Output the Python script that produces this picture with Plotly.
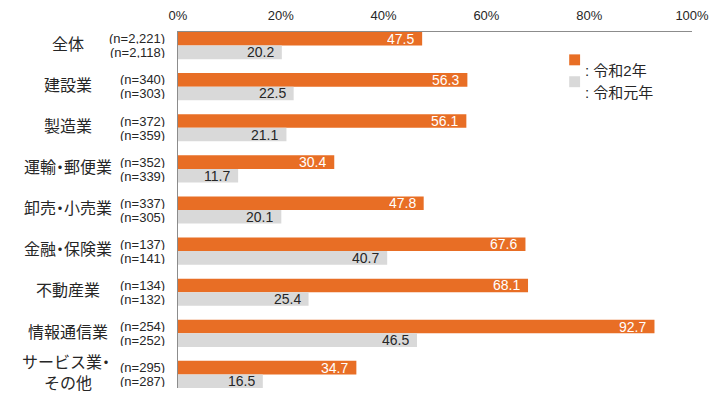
import plotly.graph_objects as go

categories = ["全体", "建設業", "製造業", "運輸・郵便業", "卸売・小売業",
              "金融・保険業", "不動産業", "情報通信業", "サービス業・<br>その他"]
n_r2 = ["(n=2,221)", "(n=340)", "(n=372)", "(n=352)", "(n=337)",
        "(n=137)", "(n=134)", "(n=254)", "(n=295)"]
n_r1 = ["(n=2,118)", "(n=303)", "(n=359)", "(n=339)", "(n=305)",
        "(n=141)", "(n=132)", "(n=252)", "(n=287)"]
vals_r2 = [47.5, 56.3, 56.1, 30.4, 47.8, 67.6, 68.1, 92.7, 34.7]
vals_r1 = [20.2, 22.5, 21.1, 11.7, 20.1, 40.7, 25.4, 46.5, 16.5]
series_names = ["令和2年", "令和元年"]
x_ticks = [0, 20, 40, 60, 80, 100]

ORANGE = "#E86E25"
GRAY = "#D9D9D9"
TXT = "#262626"
FONT = "Arial, 'Liberation Sans', 'Noto Sans CJK JP', sans-serif"

W, H = 717, 396
L, R, T, B = 178, 20, 30, 8
PW, PH = W - L - R, H - T - B

def px_x(px):
    return (px - L) / PW

def px_y(py):
    return 1 - (py - T) / PH

def tight_dot(s):
    # the reference uses a narrow middle dot; tighten spacing around it
    out = []
    chars = list(s)
    for j, ch in enumerate(chars):
        nxt = chars[j + 1] if j + 1 < len(chars) else ""
        if nxt == "・" or (ch == "・" and nxt not in ("", "<")):
            out.append(f'<span style="letter-spacing:-4px">{ch}</span>')
        else:
            out.append(ch)
    return "".join(out)

ys = list(range(len(categories)))
OFF = 0.165

fig = go.Figure()
fig.add_trace(go.Bar(y=ys, x=vals_r2, orientation="h", name=series_names[0],
                     marker=dict(color=ORANGE, line=dict(width=0)), showlegend=False))
fig.add_trace(go.Bar(y=ys, x=vals_r1, orientation="h", name=series_names[1],
                     marker=dict(color=GRAY, line=dict(width=0)), showlegend=False))

ann = []
for i, cat in enumerate(categories):
    # value labels
    ann.append(dict(x=vals_r2[i], y=i - OFF, xref="x", yref="y", text=f"{vals_r2[i]:.1f}",
                    showarrow=False, xanchor="right", xshift=-6, height=14,
                    font=dict(family=FONT, size=14, color="white")))
    ann.append(dict(x=vals_r1[i], y=i + OFF, xref="x", yref="y", text=f"{vals_r1[i]:.1f}",
                    showarrow=False, xanchor="right", xshift=-6, height=14,
                    font=dict(family=FONT, size=14, color=TXT)))
    # n labels
    ann.append(dict(x=px_x(167), y=i - OFF, xref="paper", yref="y", text=n_r2[i],
                    showarrow=False, xanchor="right", height=12, yshift=0.5,
                    font=dict(family=FONT, size=13, color=TXT)))
    ann.append(dict(x=px_x(167), y=i + OFF, xref="paper", yref="y", text=n_r1[i],
                    showarrow=False, xanchor="right", height=12,
                    font=dict(family=FONT, size=13, color=TXT)))
    # category names
    ann.append(dict(x=px_x(67), y=i - 0.03, xref="paper", yref="y", text=tight_dot(cat),
                    showarrow=False, xanchor="center",
                    font=dict(family=FONT, size=16, color=TXT)))

# legend (drawn manually)
shapes = []
for k, (col, py) in enumerate([(ORANGE, 58), (GRAY, 80)]):
    shapes.append(dict(type="rect", xref="paper", yref="paper",
                       x0=px_x(573), x1=px_x(584), y0=px_y(py - 5.5), y1=px_y(py + 5.5),
                       fillcolor=col, line=dict(width=0)))
    ann.append(dict(x=px_x(587), y=px_y(py), xref="paper", yref="paper",
                    text=": " + series_names[k], showarrow=False, xanchor="left",
                    font=dict(family=FONT, size=15, color=TXT)))

fig.update_layout(
    width=W, height=H,
    margin=dict(l=L, r=R, t=T, b=B),
    paper_bgcolor="white", plot_bgcolor="white",
    barmode="group", bargap=0.34, bargroupgap=0.0,
    annotations=ann, shapes=shapes,
    xaxis=dict(side="top", range=[0, 100], tickvals=x_ticks,
               ticktext=[f"{t}%" for t in x_ticks], showgrid=False, zeroline=False,
               showline=True, linecolor="#8c8c8c", linewidth=1.2, ticks="",
               ticklabelstandoff=6,
               tickfont=dict(family=FONT, size=13, color=TXT)),
    yaxis=dict(range=[8.33, -0.33], showticklabels=False, showgrid=False, zeroline=False,
               showline=True, linecolor="#8c8c8c", linewidth=1.2, ticks=""),
    font=dict(family=FONT, color=TXT),
)

fig.write_html("out.html", config={"displayModeBar": False},
               post_script="document.body.style.margin='0';")
